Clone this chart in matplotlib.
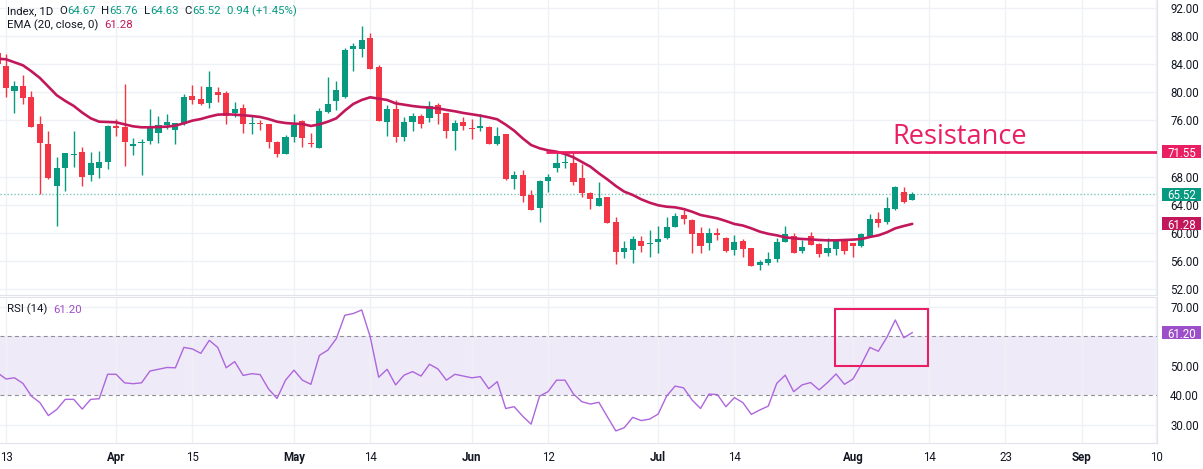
import numpy as np
import matplotlib
matplotlib.use("Agg")
import matplotlib.pyplot as plt
from matplotlib.patches import Rectangle
from matplotlib.transforms import blended_transform_factory

# ---------------- data ----------------
opens = [85.60, 83.81, 80.25, 80.91, 79.30, 75.45, 72.66, 66.72, 69.24, 71.04, 71.52,
         68.24, 69.29, 70.05, 75.22, 75.08, 72.37, 72.80, 73.13, 74.17, 75.36,
         74.65, 75.45, 79.49, 79.06, 78.44, 80.06, 79.87, 77.12, 77.73, 75.50,
         75.60, 75.50, 72.99, 71.23, 73.70, 75.93, 72.75, 72.13, 77.26, 78.82,
         79.30, 86.23, 86.13, 87.70, 83.57, 75.83, 77.64, 73.70, 75.83, 76.64,
         76.31, 78.21, 77.02, 74.55, 75.74, 74.93, 74.88, 75.12, 72.66, 74.08,
         67.62, 68.24, 65.39, 63.50, 67.43, 69.19, 70.00, 69.99, 67.86, 65.73,
         63.83, 65.06, 61.50, 57.33, 57.57, 58.85, 58.47, 58.75, 59.23, 60.89,
         62.55, 61.84, 59.94, 58.51, 59.94, 59.32, 57.57, 58.85, 57.80, 55.43,
         55.67, 56.28, 58.75, 59.56, 57.47, 59.56, 58.37, 57.09, 57.66, 58.85,
         58.51, 58.13, 59.56, 61.98, 61.60, 63.35, 65.78, 64.67]
highs = [86.00, 85.42, 81.62, 82.48, 80.20, 76.64, 74.51, 70.85, 71.42, 74.51, 72.18,
         71.56, 71.71, 75.36, 76.17, 81.15, 73.46, 73.37, 77.64, 76.64, 76.88,
         75.69, 79.73, 81.05, 80.91, 83.05, 80.72, 80.20, 78.59, 78.35, 76.78,
         76.07, 75.55, 73.08, 73.94, 76.93, 76.07, 74.17, 77.73, 82.15, 81.62,
         86.27, 86.98, 89.45, 88.41, 83.90, 78.21, 78.92, 76.55, 77.02, 76.93,
         78.77, 78.54, 77.11, 76.07, 76.55, 76.17, 76.93, 75.22, 75.03, 74.10,
         68.86, 68.95, 66.11, 67.53, 68.38, 71.33, 71.33, 71.33, 69.81, 65.87,
         67.29, 65.16, 62.31, 58.89, 59.56, 59.56, 60.41, 60.98, 62.22, 62.88,
         63.26, 61.98, 60.89, 60.65, 60.65, 59.46, 59.70, 59.08, 57.90, 56.14,
         57.33, 59.23, 60.98, 59.94, 58.99, 60.18, 58.51, 59.23, 59.18, 59.08,
         58.55, 60.03, 62.69, 62.93, 65.06, 66.70, 66.49, 65.76]
lows = [83.60, 79.39, 77.12, 78.35, 75.03, 65.49, 67.72, 60.98, 66.01, 69.43, 66.72,
        67.44, 67.77, 69.05, 73.79, 69.57, 71.09, 68.24, 72.66, 72.85, 74.79,
        72.66, 75.40, 78.35, 78.21, 77.83, 78.68, 75.45, 76.55, 74.27, 74.03,
        74.65, 72.04, 70.85, 71.20, 72.99, 72.28, 72.28, 72.10, 77.02, 77.49,
        79.15, 83.09, 84.99, 83.30, 75.90, 73.79, 72.99, 73.13, 74.51, 74.98,
        75.83, 75.50, 73.46, 71.80, 74.65, 73.32, 74.55, 72.60, 72.51, 67.60,
        66.20, 64.35, 63.20, 61.60, 65.87, 68.62, 69.19, 66.82, 65.16, 63.35,
        63.80, 61.40, 55.57, 56.38, 55.67, 57.33, 56.62, 57.19, 59.13, 60.85,
        61.27, 57.19, 57.19, 57.57, 58.99, 57.33, 56.85, 56.62, 55.30, 54.72,
        55.43, 55.90, 58.70, 57.15, 57.09, 58.25, 56.62, 56.71, 56.85, 56.99,
        56.62, 58.04, 59.46, 60.89, 61.22, 63.30, 64.30, 64.63]
closes = [84.10, 80.58, 80.91, 79.25, 75.12, 72.75, 67.77, 69.19, 71.33, 71.23, 68.00,
          69.90, 70.09, 75.22, 74.98, 72.99, 72.70, 72.89, 74.98, 75.36, 75.79,
          75.60, 79.30, 78.92, 78.35, 80.72, 79.68, 76.64, 77.64, 75.45, 75.64,
          75.50, 72.99, 71.23, 73.70, 75.36, 73.46, 72.66, 77.40, 78.35, 80.34,
          86.04, 86.60, 87.46, 83.33, 75.93, 77.64, 73.70, 75.83, 76.64, 75.50,
          78.06, 76.93, 74.51, 75.60, 75.22, 74.79, 75.22, 72.66, 73.79, 67.67,
          68.20, 65.30, 63.26, 67.39, 67.91, 69.99, 70.04, 67.29, 65.63, 64.78,
          65.02, 61.46, 57.33, 57.90, 59.13, 58.18, 58.61, 59.08, 60.89, 62.41,
          61.98, 59.80, 58.18, 59.94, 59.70, 57.47, 58.66, 57.71, 55.34, 55.90,
          56.28, 58.75, 59.84, 57.19, 58.04, 58.28, 56.99, 57.80, 58.99, 57.47,
          58.13, 59.84, 61.98, 61.46, 63.50, 66.58, 64.45, 65.52]
ema20 = [84.80, 84.71, 84.28, 83.85, 83.00, 82.05, 80.82, 79.58, 78.78, 78.07, 77.12,
         76.31, 75.83, 75.79, 75.74, 75.45, 75.17, 75.03, 75.03, 75.08, 75.12,
         75.27, 75.60, 75.98, 76.21, 76.55, 76.83, 76.88, 76.83, 76.74, 76.64,
         76.50, 76.21, 75.83, 75.64, 75.55, 75.50, 75.22, 75.45, 75.83, 76.31,
         77.40, 78.35, 78.92, 79.30, 79.11, 78.92, 78.44, 78.25, 78.06, 77.92,
         77.83, 77.73, 77.50, 77.31, 77.07, 76.88, 76.69, 76.45, 76.17, 75.41,
         74.55, 73.46, 72.51, 72.04, 71.75, 71.56, 71.23, 70.76, 70.09, 69.43,
         68.48, 67.62, 66.68, 65.87, 65.40, 64.78, 64.30, 63.93, 63.73, 63.64,
         63.40, 63.02, 62.55, 62.31, 62.07, 61.69, 61.27, 61.05, 60.65, 60.18,
         59.87, 59.65, 59.37, 59.23, 59.13, 59.08, 58.99, 58.94, 58.94, 58.99,
         59.04, 59.13, 59.42, 59.65, 60.08, 60.65, 60.98, 61.28]
rsi14 = [47.6, 45.5, 45.9, 44.0, 39.7, 37.5, 33.1, 35.2, 38.6, 38.6, 35.3,
         38.6, 38.8, 47.1, 47.1, 44.2, 43.9, 44.2, 48.2, 48.8, 49.4,
         49.3, 56.2, 55.7, 54.2, 58.6, 56.2, 49.3, 51.4, 46.7, 47.3,
         47.0, 42.1, 38.9, 45.1, 48.5, 45.1, 43.7, 53.5, 55.3, 59.2,
         67.1, 67.7, 68.9, 59.8, 46.1, 48.8, 43.5, 46.8, 48.0, 46.5,
         50.5, 48.9, 45.1, 47.1, 46.5, 45.9, 46.3, 42.2, 44.6, 35.5,
         36.1, 32.9, 30.2, 39.7, 41.2, 45.1, 45.1, 40.4, 37.8, 37.0,
         37.6, 32.7, 27.9, 29.0, 32.5, 31.4, 31.9, 33.6, 39.7, 43.1,
         42.5, 38.4, 35.5, 40.4, 40.2, 36.1, 39.2, 37.5, 33.5, 35.0,
         36.3, 44.0, 46.8, 41.2, 43.5, 44.3, 41.8, 44.3, 47.2, 43.7,
         45.5, 50.5, 56.2, 54.9, 59.6, 65.5, 59.5, 61.2]

tick_labels = ["13", "Apr", "15", "May", "14", "Jun", "12", "Jul", "14", "Aug", "14", "23", "Sep", "10"]
tick_bars = [0, 13, 22, 34, 43, 55, 64, 77, 86, 100, 109, 118, 127, 135.8]
month_labels = {"Apr", "May", "Jun", "Jul", "Aug", "Sep"}
price_ticks = [52, 56, 60, 64, 68, 76, 80, 84, 88, 92]
rsi_ticks = [30, 40, 50, 70]

resistance = 71.55
last_close = 65.52
ema_last = 61.28
rsi_last = 61.20
resistance_start_bar = 63.8
rsi_box = (97.9, 108.9, 49.9, 69.2)   # x0, x1, y0, y1

# ---------------- style ----------------
W, H = 1203, 469
FONT = ["Roboto", "DejaVu Sans"]
plt.rcParams['font.family'] = FONT
GREEN = "#089981"
RED = "#F23645"
EMA_C = "#C2185B"
RES_C = "#E91E63"
RSI_C = "#AD66DC"
RSI_BOX_C = "#9C4FC9"
TXT = "#131722"
GRID = "#EFF1F5"
BORDER = "#E0E3EB"

x = np.arange(len(closes)) - 1   # first (partially hidden) bar sits at -1
o = np.array(opens); h = np.array(highs); l = np.array(lows); c = np.array(closes)

fig = plt.figure(figsize=(W / 100, H / 100), dpi=100)
ax = fig.add_axes([0, 1 - 295 / H, 1157 / W, 295 / H])
rax = fig.add_axes([0, 1 - 443 / H, 1157 / W, (443 - 297) / H], sharex=ax)

xlim = (-0.71, 135.9)
ax.set_xlim(*xlim)
ax.set_ylim(51.16, 93.15)
rax.set_ylim(23.8, 73.3)

for a in (ax, rax):
    for s in ("left", "top"):
        a.spines[s].set_visible(False)
    a.spines["right"].set_color(BORDER)
    a.spines["bottom"].set_color(BORDER)
    a.yaxis.tick_right()
    a.tick_params(axis="y", length=0, pad=9.5, labelsize=8.3, labelcolor=TXT)
    a.tick_params(axis="x", length=0)
    a.set_xticks(tick_bars)
    a.grid(True, axis="x", color=GRID, lw=1)
    a.set_axisbelow(True)
rax.spines["top"].set_visible(True)
rax.spines["top"].set_color(BORDER)

ax.set_yticks(price_ticks)
ax.set_yticklabels([f"{v:.2f}" for v in price_ticks])
ax.grid(True, axis="y", color=GRID, lw=1)
ax.tick_params(axis="x", labelbottom=False)

rax.set_yticks(rsi_ticks)
rax.set_yticklabels([f"{v:.2f}" for v in rsi_ticks])
for v in (30, 50, 70):
    rax.axhline(v, color=GRID, lw=1, zorder=0)
rax.set_xticklabels(tick_labels)
rax.tick_params(axis="x", labelsize=8.3, labelcolor=TXT, pad=6)
for lab in rax.get_xticklabels():
    if lab.get_text() in month_labels:
        lab.set_fontweight("bold")

# ---------------- candles ----------------
up = c >= o
col = np.where(up, GREEN, RED)
ax.vlines(x, l, h, colors=col, lw=1, zorder=3)
body_lo = np.minimum(o, c)
body_h = np.maximum(np.abs(c - o), 0.14)
ax.bar(x, body_h, bottom=body_lo, width=0.72, color=col, edgecolor="none", zorder=4)

# EMA
ax.plot(x, ema20, color=EMA_C, lw=1.9, zorder=5, solid_capstyle="round")

# last price dotted line
ax.axhline(last_close, color=GREEN, lw=1, ls=(0, (1, 1.5)), alpha=0.55, zorder=2)

# resistance
ax.hlines(resistance, resistance_start_bar, xlim[1] + 5, color=RES_C, lw=2, zorder=6)
ax.text(104.6, 73.6, "Resistance", color=RES_C, fontsize=19.5, va="center", ha="left",
        family=["Open Sans", "DejaVu Sans"], zorder=7)

# ---------------- RSI ----------------
rax.axhspan(40, 60, color="#EFEAF8", zorder=0.5, lw=0)
rax.axhline(60, color="#8E8F96", lw=0.8, ls=(0, (3.5, 3)), zorder=1)
rax.axhline(40, color="#8E8F96", lw=0.8, ls=(0, (3.5, 3)), zorder=1)
rax.plot(x, rsi14, color=RSI_C, lw=1.0, zorder=4)
bx0, bx1, by0, by1 = rsi_box
rax.add_patch(Rectangle((bx0, by0), bx1 - bx0, by1 - by0, fill=False, ec=RES_C, lw=1.5, zorder=6))

# ---------------- right axis value boxes ----------------
def value_box(a, val, color, px_per_unit, text):
    tr = blended_transform_factory(fig.transFigure, a.transData)
    hh = 13.0 / px_per_unit
    a.add_patch(Rectangle((1162 / W, val - hh / 2), 39 / W, hh, transform=tr, fc=color,
                          ec="none", clip_on=False, zorder=20))
    a.text(1181.5 / W, val, text, transform=tr, color="white", fontsize=8.3, ha="center",
           va="center_baseline", clip_on=False, zorder=21)

value_box(ax, resistance, RES_C, 7.025, f"{resistance:.2f}")
value_box(ax, last_close, GREEN, 7.025, f"{last_close:.2f}")
value_box(ax, ema_last, EMA_C, 7.025, f"{ema_last:.2f}")
value_box(rax, rsi_last, RSI_BOX_C, 2.95, f"{rsi_last:.2f}")

# ---------------- legends ----------------
renderer = fig.canvas.get_renderer()

def runs(x_px, y_px, parts, size=8.2):
    xx = x_px
    for s, colr, gap in parts:
        t = fig.text(xx / W, 1 - y_px / H, s, color=colr, fontsize=size, va="center", ha="left")
        xx += t.get_window_extent(renderer=renderer).width + gap

runs(7, 11.5, [("Index, 1D", TXT, 6), ("O", TXT, 0), ("64.67", GREEN, 6), ("H", TXT, 0),
               ("65.76", GREEN, 6), ("L", TXT, 0), ("64.63", GREEN, 6), ("C", TXT, 0),
               ("65.52", GREEN, 6), ("0.94 (+1.45%)", GREEN, 0)])
runs(7, 25.5, [("EMA (20, close, 0)", TXT, 6), ("61.28", EMA_C, 0)])
runs(7, 309.5, [("RSI (14)", TXT, 6), ("61.20", RSI_BOX_C, 0)])

fig.savefig("out.png", dpi=100, facecolor="white")
